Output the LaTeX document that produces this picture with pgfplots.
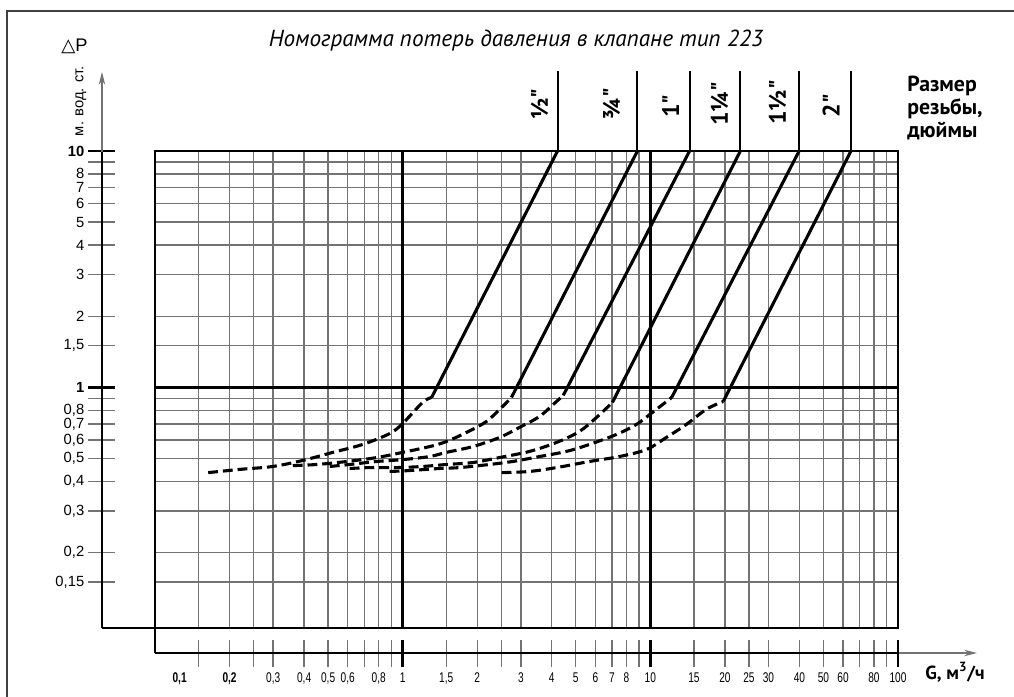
\documentclass[border=0pt]{standalone}
\usepackage{fontspec}
\usepackage{pgfplots}
\pgfplotsset{compat=1.18}
\usetikzlibrary{arrows.meta}
\setmainfont{Liberation Sans}
\newfontfamily\pts{PT Sans}
\newfontfamily\narrow[FakeStretch=0.72]{Liberation Sans}
\newfontfamily\dejavu{DejaVu Sans}

\tikzset{
  solidc/.style={black, line width=2.2pt},
  dashc/.style={black, line width=2.2pt, dash pattern=on 7pt off 3.5pt, smooth, tension=0.55},
  stem/.style={black, line width=1.4pt},
  sizelab/.style={rotate=90, inner sep=0pt, font=\pts\bfseries\fontsize{17}{17}\selectfont},
}

\begin{document}
\begin{tikzpicture}
% main grid, 1 px = 0.25 mm
\begin{axis}[
  name=ax, at={(0mm,0mm)}, anchor=south west, scale only axis,
  width=185.75mm, height=119.25mm,
  xmode=log, ymode=log,
  xmin=0.1, xmax=100, ymin=0.096, ymax=10,
  clip=false,
  axis line style={line width=2pt},
  xtick={0.15,0.2,0.25,0.3,0.4,0.5,0.6,0.7,0.8,0.9,1.5,2,2.5,3,4,5,6,7,8,9,15,20,25,30,40,50,60,70,80,90},
  ytick={0.15,0.2,0.3,0.4,0.5,0.6,0.7,0.8,0.9,1.5,2,3,4,5,6,7,8,9},
  xticklabels={}, yticklabels={},
  major tick length=0pt,
  grid=major,
  major grid style={draw=black!55, line width=1pt},
  extra x ticks={1,10}, extra y ticks={1},
  extra x tick labels={}, extra y tick labels={},
  extra tick style={grid=major, major grid style={draw=black, line width=2pt}},
]
% 1/2"
\addplot[dashc] coordinates {(0.164,0.436) (0.220,0.450) (0.299,0.463) (0.395,0.491) (0.522,0.531) (0.690,0.574) (0.886,0.638) (1.0,0.704) (1.204,0.864) (1.309,0.907)};
\addplot[solidc] coordinates {(1.309,0.907) (4.22,10)};
\addplot[stem] coordinates {(4.22,10) (4.22,21.8)};
% 3/4"
\addplot[dashc] coordinates {(0.360,0.467) (0.450,0.472) (0.595,0.486) (0.786,0.505) (1.0,0.531) (1.285,0.562) (1.50,0.590) (1.81,0.645) (2.18,0.718) (2.51,0.823) (2.75,0.907)};
\addplot[solidc] coordinates {(2.75,0.907) (8.87,10)};
\addplot[stem] coordinates {(8.87,10) (8.87,21.8)};
% 1"
\addplot[dashc] coordinates {(0.508,0.463) (0.611,0.472) (0.786,0.486) (1.0,0.495) (1.285,0.510) (1.50,0.531) (1.92,0.562) (2.46,0.614) (2.96,0.677) (3.57,0.754) (4.18,0.872) (4.45,0.925)};
\addplot[solidc] coordinates {(4.45,0.925) (14.4,10)};
\addplot[stem] coordinates {(14.4,10) (14.4,21.8)};
% 1 1/4"
\addplot[dashc] coordinates {(0.611,0.454) (0.736,0.458) (0.946,0.458) (1.204,0.463) (1.50,0.472) (1.92,0.481) (2.46,0.505) (3.25,0.536) (4.18,0.585) (5.17,0.651) (6.06,0.746) (7.03,0.864)};
\addplot[solidc] coordinates {(7.03,0.864) (23.1,10)};
\addplot[stem] coordinates {(23.1,10) (23.1,21.8)};
% 1 1/2"
\addplot[dashc] coordinates {(0.886,0.441) (1.067,0.445) (1.41,0.454) (1.70,0.458) (2.24,0.472) (2.78,0.486) (3.57,0.510) (4.58,0.536) (5.68,0.574) (7.29,0.632) (8.78,0.697) (10.2,0.784) (12.2,0.907)};
\addplot[solidc] coordinates {(12.2,0.907) (39.9,10)};
\addplot[stem] coordinates {(39.9,10) (39.9,21.8)};
% 2"
\addplot[dashc] coordinates {(2.51,0.436) (3.25,0.441) (4.18,0.458) (5.68,0.486) (7.50,0.510) (9.64,0.546) (11.6,0.614) (13.97,0.697) (16.8,0.807) (19.7,0.872)};
\addplot[solidc] coordinates {(19.7,0.872) (64.6,10)};
\addplot[stem] coordinates {(64.6,10) (64.6,21.8)};
\end{axis}

% left pressure scale
\begin{axis}[
  at={(-13.25mm,0mm)}, anchor=south west, scale only axis,
  width=1mm, height=119.25mm,
  xmin=0, xmax=1, ymode=log, ymin=0.096, ymax=10,
  axis x line=none, axis y line*=left,
  axis line style={line width=2pt},
  ytick={0.15,0.2,0.3,0.4,0.5,0.6,0.7,0.8,0.9,1.5,2,3,4,5,6,7,8,9},
  yticklabels={{0,15},{0,2},{0,3},{0,4},{0,5},{0,6},{0,7},{0,8},{},{1,5},{2},{3},{4},{5},{6},{7},{8},{}},
  tick align=center, major tick length=6.75mm,
  major tick style={draw=black!55, line width=1pt},
  extra y ticks={1,10}, extra y tick labels={\textbf{1},\textbf{10}},
  extra y tick style={major tick style={draw=black, line width=2pt}},
  yticklabel style={font=\fontsize{10.5}{12}\selectfont, anchor=east, inner sep=0pt, xshift=-1mm},
]
\end{axis}

% bottom flow scale
\begin{axis}[
  at={(0mm,-6.25mm)}, anchor=south west, scale only axis,
  width=185.75mm, height=1mm,
  xmode=log, xmin=0.1, xmax=100, ymin=0, ymax=1,
  axis y line=none, axis x line*=bottom,
  axis line style={line width=2pt},
  xtick={0.15,0.2,0.25,0.3,0.4,0.5,0.6,0.7,0.8,0.9,1.5,2,2.5,3,4,5,6,7,8,9,15,20,25,30,40,50,60,70,80,90},
  xticklabels={{\makebox[0pt]{\hspace*{-9.5mm}\bfseries 0,1}},{\bfseries 0,2},{},{0,3},{0,4},{0,5},{0,6},{},{0,8},{},
               {1,5},{2},{},{3},{4},{5},{6},{7},{8},{},
               {15},{20},{25},{30},{40},{50},{60},{},{80},{}},
  tick align=center, major tick length=6.75mm,
  major tick style={draw=black!55, line width=1pt},
  extra x ticks={1,10,100}, extra x tick labels={1,10,100},
  extra x tick style={major tick style={draw=black, line width=2pt}},
  xticklabel style={font=\narrow\fontsize{10}{12}\selectfont, anchor=north, inner sep=0pt, yshift=-1.4mm},
]
\end{axis}

% frame, axis extensions and texts
\draw[black!75, line width=0.4mm] (-37mm,-18mm) -- (-37mm,154.25mm) -- (216mm,154.25mm);
\draw[black!55, line width=0.3mm, -{Stealth[length=3.2mm,width=1.6mm]}] (-13.25mm,119mm) -- (-13.25mm,139mm);
\draw[line width=2pt] (-13.25mm,0mm) -- (0mm,0mm) -- (0mm,-6.25mm);
\draw[black!55, line width=0.3mm, -{Stealth[length=3.2mm,width=1.6mm]}] (186mm,-6.25mm) -- (205.5mm,-6.25mm);
\node[anchor=base west, inner sep=0pt, font=\fontsize{13}{13}\selectfont] at (-23.5mm,144mm) {{\dejavu △}P};
\node[rotate=90, inner sep=0pt, font=\fontsize{10.5}{12}\selectfont] at (-18.5mm,131.75mm) {м. вод. ст.};
\node[anchor=base, inner sep=0pt, font=\pts\itshape\fontsize{16.5}{18}\selectfont] at (90.25mm,145.25mm) {Номограмма потерь давления в клапане тип 223};
\node[anchor=north west, inner sep=0pt, align=left, font=\pts\bfseries\fontsize{15.5}{16.3}\selectfont] at (188mm,138mm) {Размер\\резьбы,\\дюймы};
\node[anchor=base west, inner sep=0pt, font=\pts\bfseries\fontsize{13.5}{14}\selectfont] at (192.5mm,-12.75mm) {G, м\textsuperscript{3}/ч};
\node[sizelab] at (96.1mm,131mm) {½"};
\node[sizelab] at (114.1mm,131mm) {¾"};
\node[sizelab] at (128.9mm,130.5mm) {1"};
\node[sizelab] at (141.1mm,131.1mm) {1¼"};
\node[sizelab] at (155.6mm,131.4mm) {1½"};
\node[sizelab] at (169mm,130.6mm) {2"};
\pgfresetboundingbox
\path[use as bounding box] (-38.75mm,-17mm) rectangle (214.75mm,157mm);
\end{tikzpicture}
\end{document}
